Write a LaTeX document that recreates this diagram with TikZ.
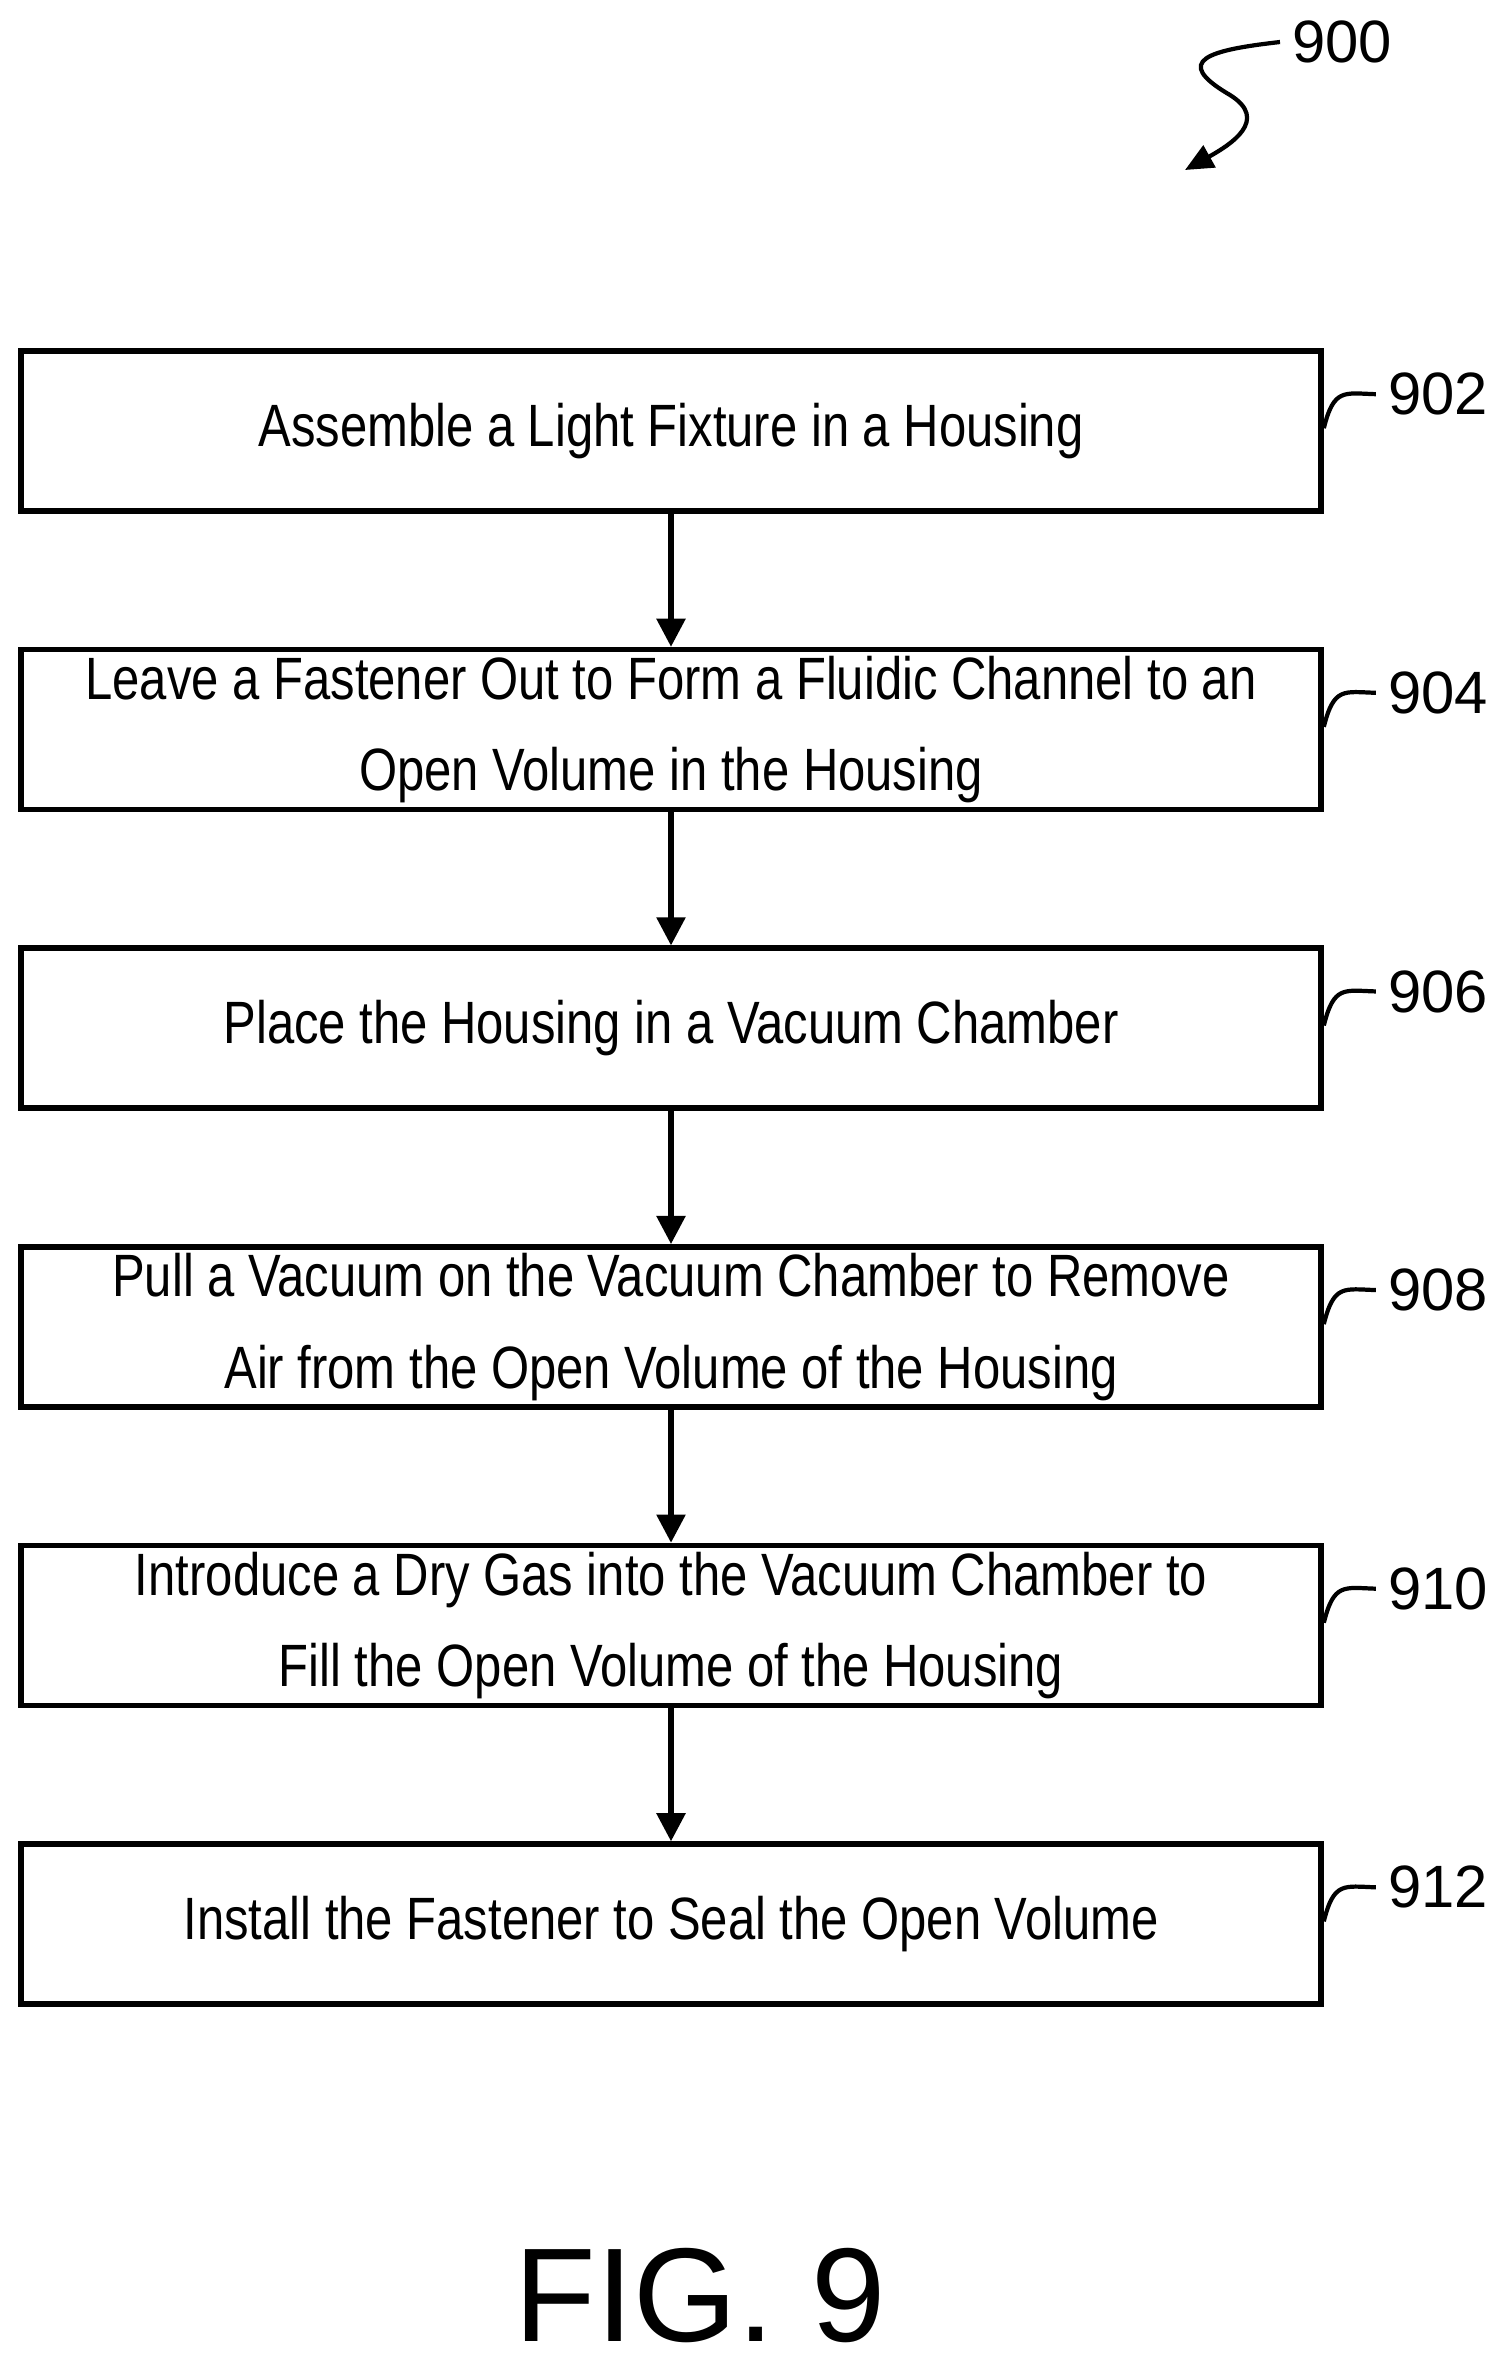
\documentclass[tikz,border=0pt]{standalone}
\usepackage{fontspec}
\setmainfont{Liberation Sans}
\newfontfamily\narrowfont{Liberation Sans}[FakeStretch=0.82]
\usetikzlibrary{positioning, arrows.meta, calc}
\tikzset{
    process/.style={draw, line width=1.6pt, minimum width=13cm, minimum height=1.6cm, align=center, font=\narrowfont\fontsize{17}{26}\selectfont, inner sep=0pt},
    flow_arrow/.style={line width=1.5pt, -{Triangle[length=8pt, width=8pt]}},
    ref_label/.style={font=\fontsize{17}{20}\selectfont, anchor=west},
    leader/.style={line width=1.2pt}
}
\begin{document}
\begin{tikzpicture}
      \useasboundingbox (0,0) rectangle (15,-23.64);

      % --- Steps ---
      \node (s902) [process] at (6.71,-4.31) {Assemble a Light Fixture in a Housing};
      \node (s904) [process, below=1.33cm of s902] {Leave a Fastener Out to Form a Fluidic Channel to an\\Open Volume in the Housing};
      \node (s906) [process, below=1.33cm of s904] {Place the Housing in a Vacuum Chamber};
      \node (s908) [process, below=1.33cm of s906] {Pull a Vacuum on the Vacuum Chamber to Remove\\Air from the Open Volume of the Housing};
      \node (s910) [process, below=1.33cm of s908] {Introduce a Dry Gas into the Vacuum Chamber to\\Fill the Open Volume of the Housing};
      \node (s912) [process, below=1.33cm of s910] {Install the Fastener to Seal the Open Volume};

      % --- Arrows ---
      \foreach \a/\b in {s902/s904, s904/s906, s906/s908, s908/s910, s910/s912}
          \draw[flow_arrow] (\a.south) -- (\b.north);

      % --- Reference labels ---
      \foreach \n in {902, 904, 906, 908, 910, 912} {
          \node (l\n) [ref_label] at ($(s\n.north east)+(0.52,-0.46)$) {\n};
          \draw[leader] ($(s\n.north east)+(0,-0.8)$) .. controls ($(s\n.north east)+(0.1,-0.4)$) and ($(s\n.north east)+(0.2,-0.45)$) .. (l\n.west);
      }

      % --- Figure number ---
      \node (l900) [ref_label] at (12.8,-0.42) {900};
      \coordinate (tip900) at (11.85,-1.7);
      \draw[leader, -{Triangle[length=8pt, width=7pt]}] (l900.west) .. controls (12.1,-0.5) and (11.7,-0.6) .. (12.3,-0.95)
          .. controls (12.7,-1.2) and (12.3,-1.45) .. (tip900);
      \node (fig) at (7,-22.95) {\fontsize{38}{40}\selectfont FIG. 9};
  \end{tikzpicture}
\end{document}
